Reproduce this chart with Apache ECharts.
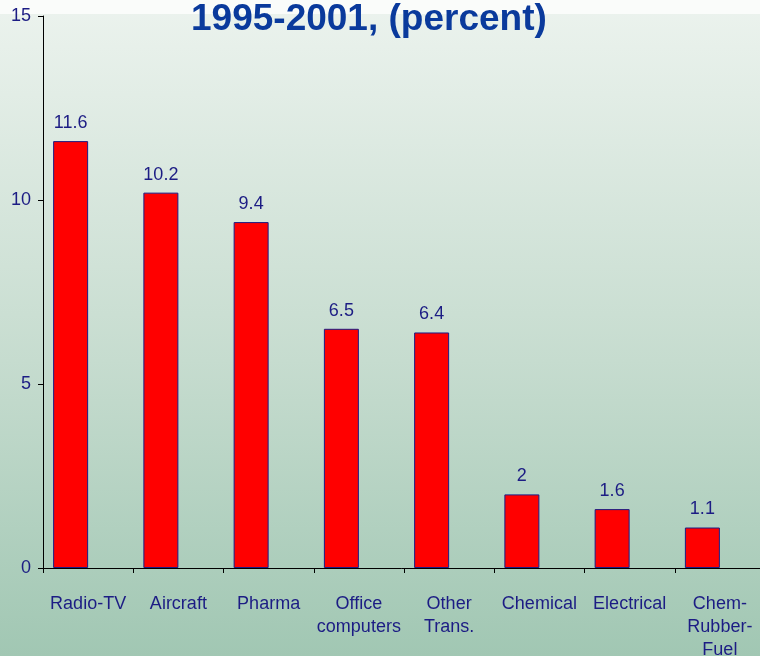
<!DOCTYPE html>
<html>
<head>
<meta charset="utf-8">
<script src="https://cdn.jsdelivr.net/npm/echarts@6/dist/echarts.min.js"></script>
<style>
html,body{margin:0;padding:0;}
#chart{width:760px;height:656px;}
</style>
</head>
<body>
<div id="chart"></div>
<script>
const categories = ['Radio-TV', 'Aircraft', 'Pharma', 'Office\ncomputers', 'Other\nTrans.', 'Chemical', 'Electrical', 'Chem-\nRubber-\nFuel'];
const values = [11.6, 10.2, 9.4, 6.5, 6.4, 2, 1.6, 1.1];
const yTicks = [0, 5, 10, 15];
const titleText = '1995-2001, (percent)';

const navy = '#1c1c84';
const font = 'Liberation Sans, Arial, sans-serif';

const chart = echarts.init(document.getElementById('chart'));
chart.setOption({
  animation: false,
  backgroundColor: {
    type: 'linear', x: 0, y: 0, x2: 0, y2: 1,
    colorStops: [
      {offset: 0, color: '#ecf3ee'},
      {offset: 0.55, color: '#c6dccf'},
      {offset: 1, color: '#a1c7b3'}
    ]
  },
  graphic: [{
    type: 'rect', left: 0, top: 0, z: -10,
    shape: {width: 760, height: 14},
    style: {fill: '#fafcfa'}
  }],
  title: {
    text: titleText,
    left: 191, top: 1, padding: 0,
    textStyle: {color: '#0a3a9c', fontSize: 37, fontWeight: 'bold', fontFamily: font}
  },
  grid: {left: 43, right: -5, top: 16, bottom: 88, containLabel: false, outerBoundsMode: 'none'},
  xAxis: {
    type: 'category',
    data: categories,
    axisLine: {lineStyle: {color: '#000', width: 1}},
    axisTick: {show: true, length: 5, alignWithLabel: false, lineStyle: {color: '#000'}},
    axisLabel: {color: navy, fontSize: 18, lineHeight: 23, margin: 25, interval: 0, fontFamily: font}
  },
  yAxis: {
    type: 'value',
    min: 0, max: 15, interval: 5,
    splitLine: {show: false},
    axisLine: {show: true, lineStyle: {color: '#000', width: 1}},
    axisTick: {show: true, length: 5, lineStyle: {color: '#000'}},
    axisLabel: {color: navy, fontSize: 18, margin: 12, fontFamily: font,
      formatter: v => yTicks.includes(v) ? String(v) : ''}
  },
  series: [{
    type: 'bar',
    data: values,
    barWidth: 35,
    barGap: '0%',
    itemStyle: {color: '#ff0000', borderColor: navy, borderWidth: 1},
    label: {show: true, position: 'top', distance: 9, color: navy, fontSize: 18, fontFamily: font}
  }, {
    type: 'bar',
    data: categories.map(() => '-'),
    barWidth: 35,
    barGap: '0%',
    silent: true
  }]
});
</script>
</body>
</html>
